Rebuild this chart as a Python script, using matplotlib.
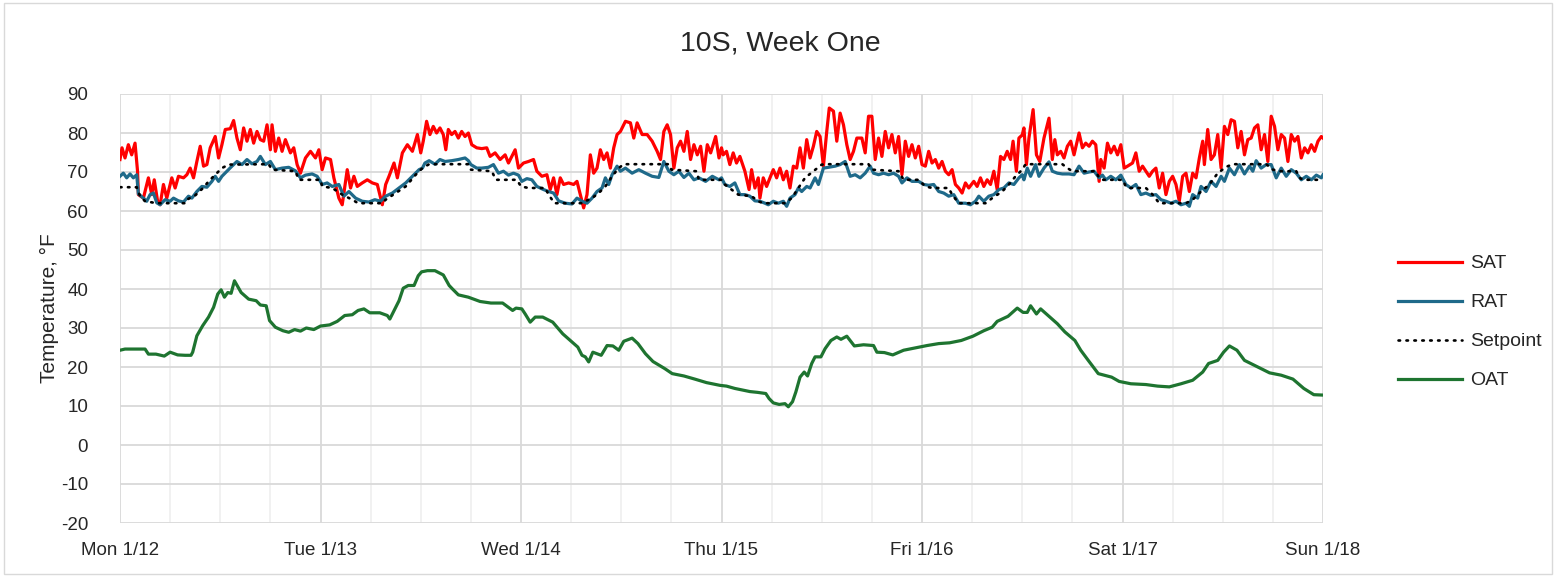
import matplotlib
matplotlib.use("Agg")
import matplotlib.pyplot as plt
from matplotlib.patches import Rectangle
from matplotlib.ticker import MultipleLocator, FixedLocator

# ---------------- data (hours since Mon 1/12 00:00) ----------------
day_labels = ["Mon 1/12", "Tue 1/13", "Wed 1/14", "Thu 1/15", "Fri 1/16", "Sat 1/17", "Sun 1/18"]
day_hours = [0, 24, 48, 72, 96, 120, 144]

sat_h = [0, 0.24, 0.6, 1.0, 1.4, 1.8, 2.1, 2.2, 2.8, 3.4, 3.8, 4.1, 4.5, 4.8, 5.2, 5.6, 6.2, 6.6, 7.0, 7.6,
         8.0, 8.4, 8.8, 9.2, 9.6, 10.0, 10.4, 10.8, 11.4, 11.8, 12.2, 12.6, 13.2, 13.6, 14.0, 14.4, 14.8, 15.2,
         15.6, 16.0, 16.4, 16.8, 17.2, 17.6, 18.0, 18.2, 18.6, 19.0, 19.4, 19.8, 20.4, 20.8, 21.2, 21.6, 22.2,
         22.8, 23.4, 23.8, 24.2, 24.6, 25.2, 25.6, 26.2, 26.6, 27.2, 27.6, 28.0, 28.4, 29.0, 29.6, 30.2, 30.8,
         31.4, 31.8, 32.2, 32.8, 33.2, 33.8, 34.4, 35.0, 35.6, 36.0,
         36.3, 36.7, 37.1, 37.5, 37.9, 38.3, 38.7, 39.0, 39.3, 39.7, 40.1, 40.5, 40.9, 41.3, 41.7, 42.1, 42.7,
         43.3, 43.9, 44.3, 44.9, 45.5, 46.1, 46.5, 47.3, 47.7, 48.3, 48.9, 49.5, 49.9, 50.5, 51.1, 51.5, 51.9,
         52.3, 52.7, 53.1, 53.7, 54.3, 54.7, 55.3, 55.5, 55.9, 56.3, 56.7, 57.1, 57.5, 57.9, 58.3, 58.7, 59.1,
         59.5, 59.9, 60.5, 61.1, 61.5, 61.9, 62.5, 63.1, 63.7, 64.3, 64.7, 65.1, 65.5, 65.9, 66.3, 66.7, 67.1,
         67.5, 67.9, 68.3, 68.7, 69.1, 69.5, 69.9, 70.3, 70.7, 71.3, 71.7,
         72.0, 72.2, 72.6, 73.0, 73.4, 73.8, 74.2, 74.8, 75.3, 75.6, 76.0, 76.4, 76.6, 77.0, 77.4, 77.8, 78.2,
         78.6, 79.0, 79.4, 79.8, 80.2, 80.6, 81.0, 81.4, 81.8, 82.2, 82.6, 83.0, 83.4, 83.8, 84.2, 84.6, 84.9,
         85.4, 85.8, 86.2, 86.6, 87.0, 87.4, 87.8, 88.2, 88.8, 89.2, 89.6, 90.0, 90.4, 90.8, 91.2, 91.6, 92.0,
         92.4, 92.8, 93.2, 93.6, 94.0, 94.4, 94.8, 95.2, 95.6, 96.0, 96.4, 96.8, 97.2, 97.6, 98.0, 98.4, 98.8,
         99.2, 99.6, 100.0, 100.4, 100.8, 101.2, 101.6, 102.2, 102.6, 103.0, 103.4, 103.8, 104.2, 104.6, 105.0,
         105.4, 105.8, 106.2, 106.6, 106.9, 107.3, 107.6, 108.0,
         108.2, 108.5, 108.8, 109.3, 109.7, 110.1, 110.6, 111.2, 111.6, 111.9, 112.2, 112.6, 113.0, 113.4,
         113.8, 114.2, 114.8, 115.2, 115.6, 116.0, 116.4, 116.8, 117.2, 117.4, 117.8, 118.2, 118.6, 119.0,
         119.4, 119.8, 120.2, 120.6, 121.2, 121.6, 122.0, 122.4, 122.8, 123.2, 123.6, 124.0, 124.4, 124.8,
         125.2, 125.6, 126.0, 126.4, 126.8, 127.2, 127.6, 128.0, 128.4, 128.8, 129.2, 129.6, 129.8, 130.2,
         130.6, 131.0, 131.4, 131.8, 132.2, 132.6, 133.0, 133.4, 133.8, 134.2, 134.6, 135.0, 135.4, 135.8,
         136.2, 136.6, 137.0, 137.4, 137.8, 138.2, 138.6, 139.0, 139.4, 139.8, 140.2, 140.6, 141.0, 141.4,
         141.8, 142.2, 142.6, 143.0, 143.4, 143.8, 144.0]
sat_v = [73.2, 76.2, 73.6, 77.0, 74.4, 77.4, 70.2, 64.2, 63.3, 68.5, 64.2, 68.0, 62.5, 61.6, 66.8, 63.3, 68.5, 65.9, 68.9, 68.5,
         69.3, 71.0, 68.5, 72.7, 76.6, 71.5, 71.9, 76.2, 79.1, 73.6, 77.0, 80.9, 81.1, 83.2, 78.7, 75.7, 81.3, 77.9,
         80.9, 77.4, 80.4, 78.3, 77.9, 82.1, 75.7, 82.1, 75.3, 78.7, 75.3, 78.3, 74.9, 76.2, 71.9, 69.7, 73.6,
         75.3, 73.6, 75.7, 70.6, 73.6, 73.2, 68.5, 63.3, 61.6, 70.6, 65.9, 68.9, 66.3, 67.2, 68.0, 67.2, 66.8,
         61.6, 66.8, 68.9, 72.3, 68.5, 74.9, 77.0, 75.3, 79.6, 74.9,
         77.9, 83.0, 79.6, 81.7, 80.0, 81.3, 79.6, 75.7, 80.9, 79.6, 80.4, 78.7, 80.4, 79.1, 80.0, 77.0, 76.2,
         76.0, 76.2, 74.0, 74.9, 73.2, 74.4, 72.3, 75.7, 71.0, 72.3, 72.7, 73.2, 70.2, 68.9, 69.3, 65.5, 68.5,
         64.2, 68.5, 66.8, 67.2, 66.8, 67.6, 62.5, 60.8, 64.2, 74.4, 69.7, 71.0, 75.7, 73.2, 74.9, 71.0, 76.2,
         79.6, 80.4, 83.0, 82.6, 78.7, 82.6, 79.6, 79.6, 77.9, 75.3, 73.2, 80.4, 82.1, 79.6, 71.0, 76.2, 77.9,
         75.3, 80.4, 73.2, 77.0, 74.4, 76.6, 70.2, 77.0, 74.9, 79.1, 73.6,
         76.2, 74.4, 75.3, 71.9, 74.9, 72.3, 74.0, 70.2, 65.5, 70.6, 65.9, 68.5, 63.3, 68.5, 66.3, 68.5, 70.6,
         68.5, 71.0, 68.0, 70.2, 65.9, 71.5, 71.0, 76.2, 71.0, 78.3, 73.6, 76.6, 80.4, 79.1, 71.5, 80.4, 86.4,
         85.6, 77.9, 85.1, 82.1, 77.0, 73.2, 75.3, 78.7, 78.7, 74.9, 84.3, 84.3, 73.2, 78.7, 74.0, 80.4, 76.2,
         79.6, 74.9, 79.1, 69.3, 77.9, 74.0, 77.0, 73.6, 76.6, 71.9, 71.5, 75.3, 72.3, 73.2, 71.0, 72.7, 70.2,
         69.3, 70.6, 66.8, 65.9, 64.6, 67.2, 65.9, 67.6, 66.3, 68.5, 66.3, 68.0, 66.8, 70.2, 65.5,
         74.0, 73.2, 75.3, 73.2, 77.9, 70.2, 78.7, 79.5,
         81.3, 71.9, 78.7, 86.0, 74.4, 72.7, 78.7, 83.8, 73.2, 78.3, 74.4, 75.3, 73.6, 76.6,
         77.9, 74.4, 80.0, 76.2, 77.4, 76.6, 77.9, 77.0, 67.6, 73.2, 71.0, 77.4, 74.9, 76.6,
         74.4, 77.0, 71.0, 71.5, 72.3, 74.9, 70.2, 71.5, 70.2, 68.9, 70.2, 71.0, 65.9, 69.7,
         64.2, 67.6, 68.9, 66.8, 62.5, 68.9, 69.7, 65.0, 69.7, 68.5, 73.6, 77.9, 71.9, 80.9,
         73.2, 74.4, 79.6, 71.0, 81.7, 79.6, 83.4, 83.0, 76.2, 80.4, 74.4, 78.3, 78.7, 81.3,
         82.1, 75.7, 79.6, 72.7, 84.3, 81.7, 75.7, 79.6, 78.7, 72.7, 79.6, 77.9, 79.1, 73.6,
         76.2, 74.9, 77.0, 75.3, 77.9, 79.1, 78.7]

rat_h = [0, 0.4, 0.8, 1.2, 1.6, 2.0, 2.2, 2.8, 3.2, 3.6, 4.0, 4.4, 4.8, 5.4, 6.0, 6.4, 7.0, 7.6, 8.2, 8.6,
         9.2, 9.8, 10.4, 11.0, 11.4, 11.8, 12.2, 12.8, 13.4, 14.0, 14.6, 15.2, 15.8, 16.4, 16.8, 17.4, 18.0,
         18.6, 19.4, 20.2, 21.0, 21.6, 22.2, 23.0, 23.6, 24.2, 24.8, 25.4, 26.2, 26.8, 27.4, 28.2, 29.0, 29.8,
         30.5, 31.2, 31.8, 32.6, 33.4, 34.2, 35.0, 35.8, 36.2, 36.5, 37.0, 37.7, 38.3, 38.9, 39.7, 40.5, 41.3,
         41.7, 42.0, 42.7, 43.3, 44.1, 44.7, 45.3, 45.9, 46.5, 47.1, 47.7, 48.1, 48.7, 49.3, 49.9, 50.7, 51.3,
         51.9, 52.5, 53.3, 54.1, 54.7, 55.3, 55.9, 56.5, 57.1, 57.7, 58.1, 58.5, 58.9, 59.5, 59.9, 60.5, 61.3,
         62.1, 62.9, 63.7, 64.5, 65.1, 65.7, 66.3, 66.9, 67.5, 68.1, 68.7, 69.3, 70.1, 70.9, 71.7, 72.0, 72.4,
         73.0, 73.6, 74.2, 74.8, 75.4, 76.0, 76.6, 77.2, 77.6, 78.2, 78.8, 79.4, 79.8, 80.2, 80.8, 81.2, 81.6,
         82.2, 82.6, 83.2, 83.6, 84.2, 84.8, 85.6, 86.2, 86.8, 87.4, 88.0, 88.6, 89.2, 89.8, 90.2, 90.8, 91.4,
         92.0, 92.6, 93.2, 93.6, 94.2, 94.8, 95.6, 96.2, 96.8, 97.4, 98.0, 98.6, 99.2, 99.8, 100.4, 101.2,
         101.8, 102.4, 102.8, 103.4, 104.0, 104.6, 105.2, 105.8, 106.4, 107.0, 107.6, 108.0, 108.2, 108.6,
         109.0, 109.6, 110.0, 110.6, 111.2, 111.6, 112.2, 112.8, 113.6, 114.2, 114.8, 115.4, 116.0, 116.6,
         117.2, 117.6, 118.0, 118.6, 119.2, 119.8, 120.4, 121.0, 121.6, 122.2, 122.8, 123.4, 124.0, 124.6,
         125.2, 125.8, 126.4, 127.0, 127.6, 128.0, 128.4, 129.0, 129.4, 130.0, 130.6, 131.2, 131.8, 132.2,
         132.8, 133.4, 134.0, 134.6, 135.2, 135.6, 136.0, 136.6, 137.2, 137.8, 138.4, 139.0, 139.6, 140.2,
         140.8, 141.4, 142.0, 142.6, 143.2, 143.8, 144.0]
rat_v = [68.9, 69.7, 68.5, 69.5, 68.5, 69.3, 64.4, 63.3, 62.5, 64.2, 64.6, 62.1, 61.6, 62.9, 62.5, 63.3, 62.6, 62.3, 63.8, 63.3,
         65.0, 66.3, 66.1, 67.6, 68.9, 67.6, 68.9, 70.2, 71.5, 72.7, 71.9, 73.2, 72.1, 72.7, 74.0, 71.9, 72.7,
         70.6, 71.0, 71.2, 70.3, 68.5, 69.2, 69.5, 68.9, 66.8, 67.2, 66.3, 66.8, 63.8, 65.0, 63.3, 62.5, 62.3,
         62.9, 62.5, 63.8, 64.6, 65.9, 67.2, 68.9, 70.6, 71.0, 72.3, 72.9, 72.0, 73.2, 72.7, 72.9, 73.2, 73.6,
         72.9, 71.9, 71.0, 71.0, 71.2, 71.9, 69.7, 70.2, 69.2, 69.7, 69.2, 67.6, 68.3, 68.0, 66.3, 65.5, 65.0,
         64.6, 62.6, 62.0, 61.8, 63.3, 62.5, 62.0, 63.3, 65.0, 65.9, 68.5, 66.8, 69.3, 71.5, 70.2, 71.0, 69.7,
         70.6, 69.7, 68.9, 68.6, 72.7, 70.2, 69.3, 70.2, 68.6, 69.7, 68.0, 68.5, 67.6, 68.9, 68.0, 68.5, 66.8,
         66.3, 67.2, 64.2, 64.2, 63.8, 62.6, 62.5, 62.0, 61.6, 62.5, 62.0, 62.5, 61.2, 63.3, 64.2, 65.9, 65.0,
         66.3, 65.9, 68.5, 66.8, 71.0, 71.2, 71.5, 71.9, 72.7, 68.9, 69.3, 68.5, 69.7, 71.5, 69.7, 69.3, 69.7,
         69.3, 69.7, 68.9, 67.2, 68.5, 67.6, 67.6, 66.8, 66.6, 66.8, 65.0, 64.6, 63.8, 64.2, 62.0, 62.0,
         61.6, 62.5, 63.8, 62.5, 63.8, 64.2, 65.5, 65.9, 67.2, 66.8, 68.5, 69.3, 68.0, 71.0,
         68.9, 71.9, 68.9, 71.0, 72.6, 70.2, 69.7, 69.5, 69.5, 69.3, 71.5, 69.7, 70.0, 70.2,
         68.5, 69.2, 68.0, 68.9, 68.0, 69.2, 66.8, 65.9, 66.8, 64.2, 64.6, 64.0, 64.2, 62.9,
         62.5, 62.0, 62.5, 61.6, 62.0, 61.2, 64.2, 63.3, 66.3, 65.0, 67.6, 66.3, 68.9, 67.6,
         71.0, 69.3, 71.9, 69.5, 71.5, 70.2, 72.9, 71.0, 71.9, 71.9, 68.5, 71.0, 68.9, 70.6,
         69.7, 68.0, 68.9, 68.0, 69.2, 68.5, 69.3]

sp_h = [0, 2.0, 2.4, 3.0, 4.4, 7.8, 8.0, 9.0, 10.0, 10.6, 11.4, 12.2, 13.0, 17.8, 18.2, 21.0, 21.4, 24.0,
        24.2, 25.4, 26.6, 27.8, 28.5, 31.4, 31.8, 33.0, 34.2, 35.4, 36.2, 37.0, 41.7, 42.0, 44.5, 45.0, 47.5,
        48.0, 48.9, 50.9, 51.3, 52.0, 55.3, 55.7, 56.5, 57.3, 58.1, 58.9, 59.7, 60.3, 65.7, 66.0, 69.0, 69.3,
        72.0, 72.4, 74.0, 75.6, 76.4, 77.0, 79.6, 80.4, 81.2, 82.0, 83.0, 84.0, 84.8, 89.6, 90.0, 93.2, 93.8,
        95.6, 96.4, 97.2, 99.2, 99.6, 100.4, 103.6, 104.4, 105.6, 106.4, 107.2, 108.0, 108.4, 112.8, 113.4,
        114.0, 116.8, 117.2, 117.6, 120.0, 120.4, 120.8, 122.8, 123.6, 124.4, 127.6, 128.4, 129.4, 130.4,
        131.4, 132.4, 133.2, 137.2, 138.0, 138.8, 140.8, 141.2, 141.6, 144.0]
sp_v = [66.1, 66.1, 63.8, 62.5, 62.0, 62.0, 62.9, 64.0, 66.0, 67.6, 69.3, 71.0, 71.9, 72.0, 70.6, 70.2, 68.0, 68.0,
        66.3, 65.9, 64.2, 62.9, 62.0, 62.0, 62.9, 64.6, 66.3, 69.3, 71.0, 72.0, 72.0, 70.6, 70.2, 68.0, 68.0,
        66.3, 65.9, 65.9, 64.2, 62.0, 62.0, 62.5, 63.3, 64.6, 66.3, 68.9, 71.0, 72.0, 72.0, 70.6, 70.2, 68.0,
        68.0, 66.8, 64.2, 63.8, 62.5, 62.0, 62.0, 63.3, 65.9, 68.5, 70.2, 71.9, 72.0, 72.0, 70.6, 70.2, 68.0,
        68.0, 66.3, 65.9, 65.9, 64.2, 62.0, 62.0, 63.3, 65.0, 66.8, 68.9, 70.6, 72.0, 72.0, 71.0,
        70.2, 70.2, 68.5, 68.0, 68.0, 66.3, 65.9, 65.9, 64.2, 62.0, 62.0, 62.9, 65.0, 66.8,
        69.7, 71.3, 72.0, 72.0, 70.6, 70.2, 70.2, 68.5, 68.0, 68.0]

oat_h = [0, 0.6, 3.0, 3.4, 4.3, 5.3, 6.0, 6.9, 7.8, 8.5, 8.7, 9.2, 9.9, 10.6, 11.2, 11.7, 12.1, 12.5, 12.9,
         13.3, 13.7, 14.5, 15.4, 16.3, 16.8, 17.5, 17.9, 18.6, 19.5, 20.2, 20.9, 21.6, 22.3, 23.2, 24.0, 25.1,
         26.0, 26.9, 27.8, 28.5, 29.2, 29.9, 31.1, 32.0, 32.3, 32.7, 33.4, 33.9, 34.5, 35.2, 35.7, 36.1, 36.8,
         37.7, 38.7, 39.4, 39.8, 40.5, 41.7, 43.1, 44.4, 45.8, 46.5, 47.0, 47.4, 48.1, 48.5, 49.1, 49.7, 50.6,
         51.8, 53.0, 54.1, 54.8, 55.3, 55.7, 56.1, 56.6, 57.6, 58.3, 59.0, 59.7, 60.3, 61.3, 62.0, 62.9, 63.8,
         65.2, 66.1, 67.5, 68.8, 70.2, 71.8, 72.6, 73.6, 74.5, 75.4, 76.3, 77.3, 77.7, 78.2, 78.9, 79.6, 80.0,
         80.5, 80.9, 81.4, 81.9, 82.3, 82.8, 83.2, 83.9, 84.4, 85.1, 85.8, 86.3, 87.0, 87.9, 89.0, 90.2, 90.6,
         91.5, 92.5, 93.8, 95.2, 96.6, 98.0, 99.3, 100.7, 102.1, 103.4, 104.4, 105.0, 106.3, 107.4, 108.1,
         108.6, 109.0, 109.7, 110.2, 111.3, 112.2, 113.1, 114.3, 115.0, 115.9, 117.1, 117.8, 118.7, 119.6,
         121.0, 122.8, 124.2, 125.6, 127.0, 128.4, 129.6, 130.3, 131.4, 132.1, 132.8, 133.7, 134.6, 136.2,
         137.6, 139.0, 140.4, 141.7, 142.9, 144.0]
oat_v = [24.3, 24.6, 24.6, 23.3, 23.3, 22.8, 23.8, 23.1, 23.0, 23.0, 23.8, 28.0, 30.6, 32.8, 35.3, 38.7, 39.8, 37.9, 39.1,
         38.9, 42.1, 39.1, 37.4, 37.0, 35.9, 35.7, 31.9, 30.2, 29.3, 28.9, 29.6, 29.2, 30.0, 29.6, 30.5, 30.8,
         31.7, 33.2, 33.4, 34.5, 34.9, 33.9, 33.9, 33.2, 32.3, 34.0, 37.0, 40.2, 40.9, 40.9, 43.4, 44.4, 44.7,
         44.7, 43.6, 40.9, 40.0, 38.5, 37.9, 36.8, 36.4, 36.4, 35.3, 34.5, 35.1, 34.9, 33.6, 31.5, 32.8, 32.8,
         31.5, 28.5, 26.4, 25.1, 23.0, 22.6, 21.3, 23.8, 23.0, 25.5, 25.4, 24.3, 26.6, 27.4, 26.0, 23.4, 21.4,
         19.6, 18.3, 17.7, 16.9, 16.0, 15.3, 15.1, 14.5, 14.1, 13.7, 13.5, 13.2, 11.9, 10.8, 10.4, 10.6, 9.8,
         11.1, 13.6, 17.4, 18.7, 17.7, 20.9, 22.6, 22.6, 24.7, 26.8, 27.7, 27.1, 27.9, 25.4, 25.7, 25.5, 23.8,
         23.7, 23.1, 24.3, 24.9, 25.5, 26.0, 26.2, 26.8, 27.9, 29.3, 30.2, 31.7, 33.0, 35.1, 34.0,
         34.0, 35.7, 33.6, 34.9, 32.8, 31.1, 29.0, 26.8, 24.3, 21.7, 18.3, 17.9, 17.4, 16.3,
         15.7, 15.5, 15.1, 14.9, 15.7, 16.6, 18.7, 20.9, 21.7, 23.8, 25.4, 24.3, 21.7, 20.0,
         18.5, 17.9, 16.9, 14.5, 12.9, 12.8]

y_ticks = [-20, -10, 0, 10, 20, 30, 40, 50, 60, 70, 80, 90]

# ---------------- figure ----------------
W, H, DPI = 1556, 577, 100
fig = plt.figure(figsize=(W / DPI, H / DPI), dpi=DPI)
fig.patch.set_facecolor("white")
fig.patches.append(Rectangle((4 / W, 3 / H), (W - 8) / W, (H - 6) / H, transform=fig.transFigure,
                             fill=False, edgecolor="#d9d9d9", linewidth=1.0))

ax = fig.add_axes([120 / W, 1 - 523 / H, (1323 - 120) / W, (523 - 94) / H])
for s in ax.spines.values():
    s.set_visible(False)

ax.set_xlim(day_hours[0], day_hours[-1])
ax.set_ylim(y_ticks[0], y_ticks[-1])
ax.xaxis.set_major_locator(FixedLocator(day_hours))
ax.xaxis.set_minor_locator(MultipleLocator(6))
ax.set_xticklabels(day_labels, fontsize=13.5, color="#262626", family="Liberation Sans")
ax.set_yticks(y_ticks)
ax.set_yticklabels([str(t) for t in y_ticks], fontsize=13.5, color="#262626", family="Liberation Sans")
ax.tick_params(axis="both", which="both", length=0)
ax.tick_params(axis="x", pad=14)
ax.tick_params(axis="y", pad=23)

ax.grid(True, axis="y", which="major", color="#d9d9d9", linewidth=1.3, zorder=0)
ax.grid(True, axis="x", which="major", color="#d9d9d9", linewidth=1.3, zorder=0)
ax.grid(True, axis="x", which="minor", color="#eeeeee", linewidth=1.1, zorder=0)
ax.set_axisbelow(True)

ax.plot(sat_h, sat_v, color="#ff0000", linewidth=2.3, label="SAT", zorder=3)
ax.plot(rat_h, rat_v, color="#1f6a8a", linewidth=2.3, label="RAT", zorder=4)
ax.plot(sp_h, sp_v, color="#000000", linewidth=1.9, linestyle=(0, (0.6, 2.4)),
        dash_capstyle="round", label="Setpoint", zorder=5)
ax.plot(oat_h, oat_v, color="#1e7430", linewidth=2.3, label="OAT", zorder=3)

ax.set_ylabel("Temperature, \u00b0F", fontsize=15, color="#262626", family="Liberation Sans")
ax.yaxis.set_label_coords((59 - 120) / (1323 - 120), 0.5)

fig.text(780 / W, 1 - 44 / H, "10S, Week One", ha="center", va="center", fontsize=20.5,
         color="#262626", family="Liberation Sans")

leg = ax.legend(loc="center left", bbox_to_anchor=(1398 / W, 1 - 322 / H), bbox_transform=fig.transFigure,
                frameon=False, handlelength=3.3, handletextpad=0.4, labelspacing=1.1,
                borderpad=0, borderaxespad=0, prop={"family": "Liberation Sans", "size": 14})
for t in leg.get_texts():
    t.set_color("#262626")

fig.savefig("out.png", dpi=DPI, facecolor="white")
